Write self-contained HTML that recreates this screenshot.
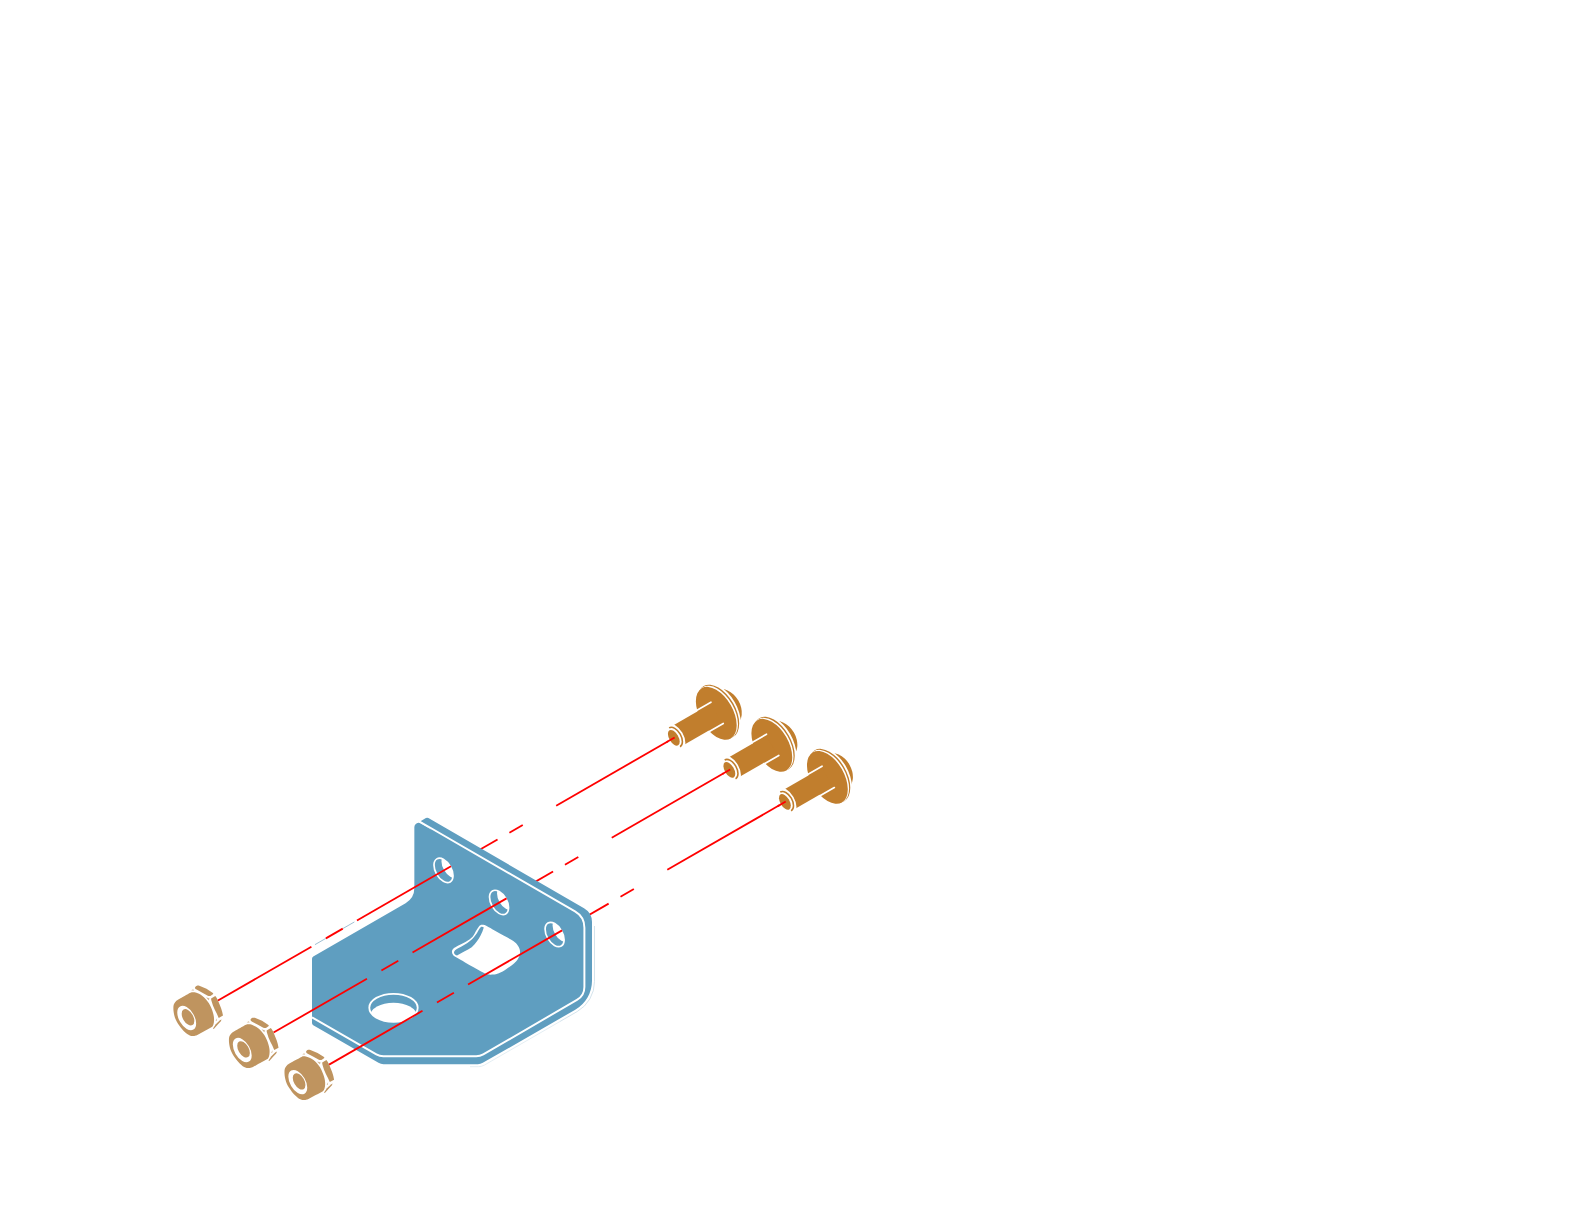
<!DOCTYPE html>
<html><head><meta charset="utf-8"><title>Bracket assembly</title>
<style>html,body{margin:0;padding:0;background:#fff}body{width:1588px;height:1209px;overflow:hidden;font-family:"Liberation Sans",sans-serif}svg{display:block}</style>
</head><body>
<svg width="1588" height="1209" viewBox="0 0 1588 1209">
<defs>
<clipPath id="hc0"><ellipse cx="443.5" cy="870.4" rx="13.3" ry="7.85" transform="rotate(60 443.5 870.4)" fill="none"/></clipPath>
<clipPath id="hc1"><ellipse cx="499.05" cy="902.45" rx="13.3" ry="7.85" transform="rotate(60 499.05 902.45)" fill="none"/></clipPath>
<clipPath id="hc2"><ellipse cx="554.6" cy="934.5" rx="13.3" ry="7.85" transform="rotate(60 554.6 934.5)" fill="none"/></clipPath>
<clipPath id="bh"><ellipse cx="393.5" cy="1007.8" rx="24.2" ry="14.0"/></clipPath>
<g id="nut"><path d="M174.3,1003.4C174.72,1002.73 175.45,1001.7 176.2,1001C176.95,1000.3 177.4,1000.03 178.8,999.2C180.2,998.37 182.67,997.07 184.6,996C186.53,994.93 189.1,993.43 190.4,992.8C191.7,992.17 191.7,992.28 192.4,992.2C193.1,992.12 193.6,992.07 194.6,992.3C195.6,992.53 197.1,993 198.4,993.6C199.7,994.2 201.17,994.97 202.4,995.9C203.63,996.83 204.72,997.98 205.8,999.2C206.88,1000.42 208,1001.77 208.9,1003.2C209.8,1004.63 210.53,1006.27 211.2,1007.8C211.87,1009.33 212.45,1010.87 212.9,1012.4C213.35,1013.93 213.72,1015.57 213.9,1017C214.08,1018.43 214.08,1019.77 214,1021C213.92,1022.23 213.83,1023.35 213.4,1024.4C212.97,1025.45 212.87,1026.2 211.4,1027.3C209.93,1028.4 206.87,1029.77 204.6,1031C202.33,1032.23 199.37,1033.92 197.8,1034.7C196.23,1035.48 196.08,1035.48 195.2,1035.7C194.32,1035.92 193.4,1036.05 192.5,1036C191.6,1035.95 190.68,1035.72 189.8,1035.4C188.92,1035.08 188.18,1034.8 187.2,1034.1C186.22,1033.4 184.95,1032.25 183.9,1031.2C182.85,1030.15 181.88,1029.05 180.9,1027.8C179.92,1026.55 178.88,1025.12 178,1023.7C177.12,1022.28 176.23,1020.75 175.6,1019.3C174.97,1017.85 174.55,1016.42 174.2,1015C173.85,1013.58 173.63,1012.13 173.5,1010.8C173.37,1009.47 173.37,1007.97 173.4,1007C173.43,1006.03 173.55,1005.6 173.7,1005C173.85,1004.4 173.88,1004.07 174.3,1003.4Z" fill="#bf945f"/><ellipse cx="186.7" cy="1018" rx="13.35" ry="7.71" transform="rotate(60 186.7 1018)" fill="#fff"/><ellipse cx="188" cy="1017.3" rx="8.95" ry="5.17" transform="rotate(60 188 1017.3)" fill="#bf945f"/><path d="M194.9,987.9 C195.3,986.6 196.1,985.9 197.0,985.7 C197.8,985.5 198.6,985.6 199.3,985.8 L206.5,988.8 L212.5,992.7 C213.1,993.1 213.4,993.5 213.2,994.0 L210.8,995.75 C209.9,996.1 208.8,996.1 207.8,995.7 L201.9,992.5 L196.6,989.6 C195.8,989.1 195.2,988.5 194.9,987.9Z" fill="#bf945f"/><path d="M211.1,998.4 L215.3,996 C216.4,997.2 217.2,998.6 217.9,1000.2 L221.1,1008.2 C222,1010.6 222.6,1013.1 223,1015.6 L218.7,1018 C217.6,1015.2 216.2,1012.4 214.8,1009.8 C213.4,1007 212.3,1004.2 211.6,1001.3 C211.3,1000.3 211.1,999.4 211.1,998.4Z" fill="#bf945f"/><path d="M213.0,1028.9 L213.3,1027.9 L215.8,1024.2 L219.9,1020.3 L221.6,1019.4 L220.6,1021.4 L217.8,1024.5 L214.0,1028.7Z" fill="#bf945f"/><path d="M206,997.3 L209.5,998.4 L208.7,1000.2Z" fill="#bf945f" opacity=".7"/><path d="M191.2,990.4 L193.1,988.9 L194.1,990.7Z" fill="#bf945f" opacity=".5"/><path d="M215.6,1020.4 L217.1,1018.2 L216.6,1020.9Z" fill="#bf945f" opacity=".7"/></g>
<g id="bolt"><ellipse cx="725.63" cy="707.88" rx="20" ry="14.7" transform="rotate(60 725.63 707.88)" fill="#c17e2d"/><ellipse cx="719.79" cy="710.56" rx="29.7" ry="17.15" transform="rotate(60 719.79 710.56)" fill="#fff"/><ellipse cx="718.37" cy="711.6" rx="29.45" ry="17" transform="rotate(60 718.37 711.6)" fill="#c17e2d"/><ellipse cx="717.34" cy="712.43" rx="29.2" ry="16.86" transform="rotate(60 717.34 712.43)" fill="#fff"/><ellipse cx="716.28" cy="713.27" rx="29" ry="16.6" transform="rotate(60 716.28 713.27)" fill="#c17e2d"/><path d="M666.52,729.19 L710.73,703.66 L721.83,722.89 L677.62,748.41 Z" fill="#c17e2d"/><line x1="696.58" y1="710.45" x2="710.95" y2="702.15" stroke="#fff" stroke-width="1.7" stroke-linecap="round"/><line x1="708.88" y1="731.75" x2="723.25" y2="723.45" stroke="#fff" stroke-width="1.7" stroke-linecap="round"/><ellipse cx="675.14" cy="737.02" rx="14.5" ry="8.37" transform="rotate(60 675.14 737.02)" fill="#fff"/><path d="M669.13,727.91 A10.9,6.5 60 0 1 680.03,746.79" fill="none" stroke="#c17e2d" stroke-width="1.55"/><ellipse cx="673.8" cy="737.8" rx="8.7" ry="4.6" transform="rotate(60 673.8 737.8)" fill="#c17e2d"/></g>
</defs>
<g stroke="#ff0000" stroke-width="1.8" stroke-linecap="butt" fill="none"><line x1="468.33" y1="856.32" x2="497.53" y2="839.5"/><line x1="509.4" y1="832.66" x2="522.75" y2="824.97"/><line x1="556.2" y1="805.71" x2="674.65" y2="737.48"/><line x1="523.88" y1="888.37" x2="553.08" y2="871.55"/><line x1="564.95" y1="864.71" x2="578.3" y2="857.02"/><line x1="611.75" y1="837.76" x2="730.2" y2="769.53"/><line x1="579.43" y1="920.42" x2="608.63" y2="903.6"/><line x1="620.5" y1="896.76" x2="633.85" y2="889.07"/><line x1="667.3" y1="869.81" x2="785.75" y2="801.58"/></g>
<path d="M414.35,827.07A4.2,4.2 0 0 1 420.65,823.43L432,829.98L420.5,821.2L425.92,818.07A2.5,2.5 0 0 1 428.42,818.08L584.02,908.28A16,16 0 0 1 592,922.12L592,980.78A33.4,33.4 0 0 1 575.25,1009.73L482.81,1062.87A10,10 0 0 1 477.83,1064.2L383.48,1064.2A10,10 0 0 1 378.48,1062.86L313.25,1025.22A2.5,2.5 0 0 1 312,1023.06L312,958.69A2.5,2.5 0 0 1 313.25,956.53L405.6,903.2A17.5,17.5 0 0 0 414.35,888.05Z" fill="#5f9ec0"/>
<path d="M312,1017.3L376.35,1054.43A14,14 0 0 0 383.35,1056.3L476.23,1056.3A14,14 0 0 0 483.26,1054.4L576.94,999.94A15,15 0 0 0 584.4,986.97L584.4,927.65A18.8,18.8 0 0 0 575.01,911.37L416.5,819.75" fill="none" stroke="#fff" stroke-width="1.95"/>
<path d="M594.5,926L594.5,981.63A34.5,34.5 0 0 1 577.25,1011.51L560,1021.47" fill="none" stroke="#cfe0ea" stroke-width="0.9"/>
<path d="M560,1021.47L484.5,1065.03A12.5,12.5 0 0 1 478.25,1066.7L470,1066.7" fill="none" stroke="#e1ecf2" stroke-width="0.9"/>
<ellipse cx="443.5" cy="870.4" rx="13.3" ry="7.85" transform="rotate(60 443.5 870.4)" fill="#5f9ec0" stroke="#fff" stroke-width="1.7"/>
<g clip-path="url(#hc0)"><ellipse cx="450.43" cy="866.4" rx="12.5" ry="7.4" transform="rotate(60 450.43 866.4)" fill="#fff"/></g>
<ellipse cx="499.05" cy="902.45" rx="13.3" ry="7.85" transform="rotate(60 499.05 902.45)" fill="#5f9ec0" stroke="#fff" stroke-width="1.7"/>
<g clip-path="url(#hc1)"><ellipse cx="505.98" cy="898.45" rx="12.5" ry="7.4" transform="rotate(60 505.98 898.45)" fill="#fff"/></g>
<ellipse cx="554.6" cy="934.5" rx="13.3" ry="7.85" transform="rotate(60 554.6 934.5)" fill="#5f9ec0" stroke="#fff" stroke-width="1.7"/>
<g clip-path="url(#hc2)"><ellipse cx="561.53" cy="930.5" rx="12.5" ry="7.4" transform="rotate(60 561.53 930.5)" fill="#fff"/></g>
<ellipse cx="393.5" cy="1007.8" rx="24.2" ry="14.0" fill="#5f9ec0" stroke="#fff" stroke-width="1.8"/>
<g clip-path="url(#bh)"><ellipse cx="393.5" cy="1015.9" rx="23.3" ry="13.2" fill="#fff"/></g>
<path d="M482.1,924.85C482.78,924.82 483.63,924.91 484.4,925.1C485.17,925.29 484.93,925.07 486.7,926C488.47,926.93 492.12,929.07 495,930.7C497.88,932.33 500.95,934.07 504,935.8C507.05,937.52 510.97,939.4 513.3,941.05C515.62,942.7 516.83,944.06 517.95,945.7C519.07,947.34 519.81,949.07 520,950.9C520.19,952.73 520.02,954.67 519.1,956.7C518.18,958.73 516.72,960.98 514.5,963.1C512.28,965.22 508.41,967.72 505.8,969.4C503.19,971.08 500.97,972.33 498.85,973.2C496.73,974.07 495.03,974.41 493.1,974.6C491.18,974.79 489.13,974.78 487.3,974.35C485.47,973.92 484.38,973.19 482.1,972C479.82,970.81 476.43,968.8 473.6,967.2C470.77,965.6 467.93,964 465.1,962.4C462.27,960.8 458.6,958.84 456.6,957.6C454.6,956.36 453.88,955.87 453.1,954.95C452.33,954.03 452,953.06 451.95,952.1C451.9,951.14 452.02,950.12 452.8,949.2C453.58,948.28 454.98,947.53 456.6,946.6C458.22,945.67 460.57,944.67 462.5,943.6C464.43,942.53 466.48,941.4 468.2,940.2C469.92,939 471.45,938 472.8,936.4C474.15,934.8 475.33,932.18 476.3,930.6C477.27,929.02 477.93,927.78 478.6,926.9C479.27,926.02 479.72,925.64 480.3,925.3C480.88,924.96 481.42,924.88 482.1,924.85Z" fill="#fff"/>
<path d="M454.0,952.2 C454.3,950.6 455.6,949.5 457.2,948.7 C459.8,947.3 462.4,945.9 464.9,944.4 C467.8,942.7 470.4,940.9 472.5,938.7 C475,936.3 476.8,933.6 478.1,931.1 C478.9,929.6 479.7,928.1 480.7,927.2 C481.6,926.4 482.8,926.6 483.8,927.6 C483,930.2 482,932.8 480.7,935.2 C479.6,937.4 478.3,939.6 476.8,941.6 C475.3,943.7 473.6,945.6 471.7,947.2 C469.4,948.9 466.8,950.3 464.2,951.6 L457.0,955.6 C455.2,954.8 453.8,953.7 454.0,952.2Z" fill="#5f9ec0"/>
<g stroke="#86aec7" stroke-width="0.8" fill="none"><line x1="354.38" y1="921.95" x2="342.77" y2="928.64"/><line x1="325.87" y1="938.37" x2="314.95" y2="944.66"/></g>
<g stroke="#ff0000" stroke-width="1.8" stroke-linecap="butt" fill="none"><line x1="451" y1="866.3" x2="356.98" y2="920.45"/><line x1="342.77" y1="928.64" x2="325.87" y2="938.37"/><line x1="311.4" y1="946.71" x2="217.99" y2="1000.51"/><line x1="506.55" y1="898.35" x2="412.53" y2="952.5"/><line x1="398.32" y1="960.69" x2="381.42" y2="970.42"/><line x1="366.95" y1="978.76" x2="273.54" y2="1032.56"/><line x1="562.1" y1="930.4" x2="468.08" y2="984.55"/><line x1="453.87" y1="992.74" x2="436.97" y2="1002.47"/><line x1="422.5" y1="1010.81" x2="329.09" y2="1064.61"/></g>
<use href="#nut" x="0" y="0"/>
<use href="#nut" x="55.55" y="32.05"/>
<use href="#nut" x="111.1" y="64.1"/>
<use href="#bolt" x="0" y="0"/>
<use href="#bolt" x="55.55" y="32.05"/>
<use href="#bolt" x="111.1" y="64.1"/>
<g stroke="#ff0000" stroke-width="1.8" stroke-linecap="butt" fill="none"><line x1="666.77" y1="742.02" x2="674.65" y2="737.48"/><line x1="722.32" y1="774.07" x2="730.2" y2="769.53"/><line x1="777.87" y1="806.12" x2="785.75" y2="801.58"/></g>
</svg>
</body></html>
